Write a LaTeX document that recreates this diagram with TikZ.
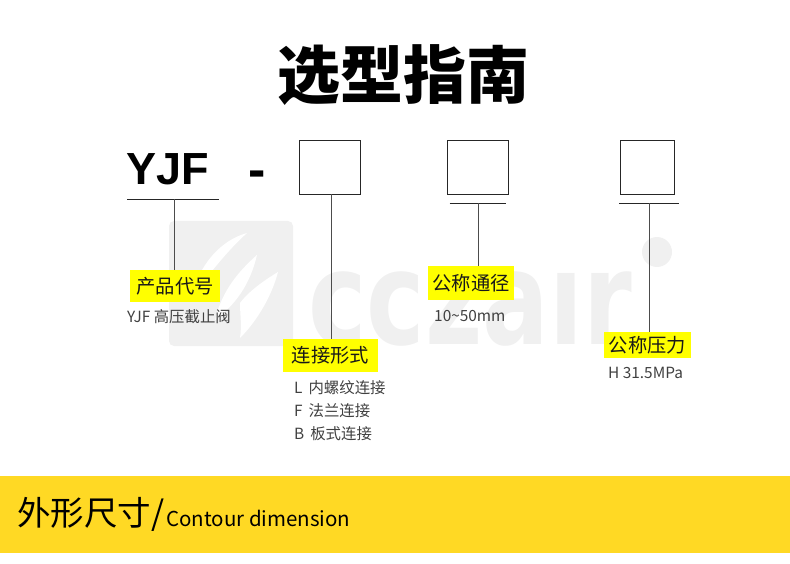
\documentclass[tikz,border=0pt]{standalone}
\usepackage{fontspec}
\setmainfont{Noto Sans CJK SC}
\newfontfamily\hv{Liberation Sans}
\newfontfamily\wmf{DejaVu Sans}
\definecolor{hly}{RGB}{255,255,0}
\definecolor{bandc}{RGB}{255,217,36}
\definecolor{wmc}{RGB}{240,240,240}
\begin{document}
\begin{tikzpicture}[x=1pt,y=-1pt,
 boxn/.style={draw=black!85,line width=0.8pt,fill=white,inner sep=0pt},
 lin/.style={draw=black!70,line width=0.8pt},
 hl/.style={fill=hly,inner sep=0pt,font=\fontsize{19.3}{21}\selectfont,text=black!90},
 note/.style={inner sep=0pt,anchor=west,font=\fontsize{15.4}{17}\selectfont,text=black!75},
 wm/.style={text=wmc,font=\wmf\bfseries\fontsize{130}{130}\selectfont,inner sep=0pt,xscale=0.76}]
\useasboundingbox (0,0) rectangle (790,564);
% watermark
\fill[wmc,rounded corners=5pt] (169,221) rectangle (293,346);
\fill[white] (190,300) .. controls (200,262) and (222,240) .. (247,233) .. controls (228,250) and (208,275) .. (190,300) -- cycle;
\fill[white] (215,320) .. controls (222,290) and (240,270) .. (257,255) .. controls (250,285) and (235,305) .. (215,320) -- cycle;
\fill[white] (240,303) .. controls (250,290) and (265,280) .. (278,272) .. controls (272,295) and (258,320) .. (240,338) .. controls (242,325) and (240,315) .. (240,303) -- cycle;
\node[wm,anchor=base west] (wmark) at (308,344) {ccza\char"0131 r};
\fill[wmc] (657,252) circle (15);
% band
\fill[bandc] (0,476) rectangle (790,553);
\node[anchor=center,inner sep=0pt,font=\fontsize{63}{66}\selectfont\bfseries] (title) at (403,75) {选型指南};
\node[anchor=base west,inner sep=0pt,font=\hv\bfseries\fontsize{45}{50}\selectfont] (yjf) at (126,185) {YJF};
\node[anchor=center,inner sep=0pt,font=\hv\bfseries\fontsize{52}{54}\selectfont] (dash) at (257,179) {-};
\node[boxn,minimum width=61pt,minimum height=54pt] (b1) at (329.5,167.5) {};
\node[boxn,minimum width=61pt,minimum height=54pt] (b2) at (477.5,167.5) {};
\node[boxn,minimum width=54pt,minimum height=54pt] (b3) at (647,167.5) {};
\coordinate (u0a) at (127,199.5); \coordinate (u0b) at (219,199.5);
\coordinate (u2a) at (449.5,203.5); \coordinate (u2b) at (506,203.5);
\coordinate (u3a) at (619,203.5); \coordinate (u3b) at (679,203.5);
\draw[draw=black!85,line width=0.8pt] (u0a) -- (u0b);
\draw[draw=black!85,line width=0.8pt] (u2a) -- (u2b);
\draw[draw=black!85,line width=0.8pt] (u3a) -- (u3b);
\node[hl,minimum width=90pt,minimum height=32pt] (l0) at (175,286) {产品代号};
\node[hl,minimum width=95pt,minimum height=33pt] (l1) at (330.5,355.5) {连接形式};
\node[hl,minimum width=86pt,minimum height=34pt] (l2) at (471,283) {公称通径};
\node[hl,minimum width=87pt,minimum height=26pt] (l3) at (647.5,345) {公称压力};
\coordinate (c0) at (174,199.5);
\coordinate (c1) at (331.5,194.5);
\coordinate (c2) at (478.5,203.5);
\coordinate (c3) at (649,203.5);
\draw[lin] (c0) -- (c0 |- l0.north);
\draw[lin] (c1) -- (c1 |- l1.north);
\draw[lin] (c2) -- (c2 |- l2.north);
\draw[lin] (c3) -- (c3 |- l3.north);
\node[note] (t0) at (127,317) {YJF 高压截止阀};
\node[note] (t1) at (434,316) {10\char`~50mm};
\node[note] (t2) at (608,373) {H 31.5MPa};
\node[note] (t3) at (294,388) {L\hspace{6pt}内螺纹连接};
\node[note] (t4) at (294,411) {F\hspace{6pt}法兰连接};
\node[note] (t5) at (294,434) {B\hspace{6pt}板式连接};
\node[anchor=base west,inner sep=0pt,font=\fontsize{33.5}{36}\selectfont] (h1) at (17,525) {外形尺寸/};
\node[anchor=base west,inner sep=0pt,font=\fontsize{20.5}{22}\selectfont] (h2) at (166,526) {Contour dimension};
\end{tikzpicture}
\end{document}
